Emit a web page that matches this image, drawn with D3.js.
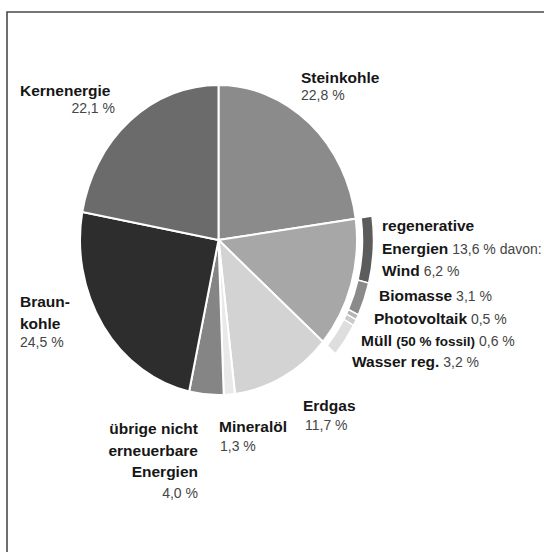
<!DOCTYPE html>
<html>
<head>
<meta charset="utf-8">
<script src="https://cdn.jsdelivr.net/npm/d3@7"></script>
<style>
  html, body { margin: 0; padding: 0; background: #fff; }
  svg { display: block; }
</style>
</head>
<body>
<svg id="chart" width="544" height="552"></svg>
<script>
// shares of gross electricity generation (%), clockwise from 12 o'clock
const categories = ['Steinkohle', 'regenerative Energien', 'Erdgas', 'Mineralöl', 'übrige nicht erneuerbare Energien', 'Braunkohle', 'Kernenergie']
const shares = [22.8, 13.6, 11.7, 1.3, 4.0, 24.5, 22.1]
const greys = ['#8b8b8b', '#a7a7a7', '#d3d3d3', '#e9e9e9', '#858585', '#2d2d2d', '#6b6b6b']

// breakdown of "regenerative Energien"
const regCategories = ['Wind', 'Biomasse', 'Photovoltaik', 'Müll (50 % fossil)', 'Wasser reg.']
const regShares = [6.2, 3.1, 0.5, 0.6, 3.2]
const regGreys = ['#5c5c5c', '#8a8a8a', '#b4b4b4', '#cbcbcb', '#dedede']

const svg = d3.select('#chart')
const fmt = d3.formatLocale({ decimal: ',', thousands: '.', grouping: [3], currency: ['', ' €'] }).format('.1f')
const pct = (v) => fmt(v) + ' %'

// frame
svg.append('path')
  .attr('d', 'M7,552 V12 H544')
  .attr('fill', 'none')
  .attr('stroke', '#4a4a4a')
  .attr('stroke-width', 1.6)

// the pie is slightly taller than wide in the original
const cx = 218.5
const cy = 240
const rx = 138.5
const ry = 155

const g = svg.append('g').attr('transform', `translate(${cx},${cy}) scale(1,${ry / rx})`)

const pie = d3.pie().sort(null).value((d) => d)
const arcs = pie(shares)
const arc = d3.arc().innerRadius(0).outerRadius(rx)

g.selectAll('.slice')
  .data(arcs)
  .enter()
  .append('path')
  .attr('class', 'slice')
  .attr('d', arc)
  .attr('fill', (d, i) => greys[i])
  .attr('stroke', '#fff')
  .attr('stroke-width', 2)
  .attr('vector-effect', 'non-scaling-stroke')

// outer ring for the renewables
const reg = arcs[1]
const ringPie = d3.pie().sort(null).value((d) => d).startAngle(reg.startAngle).endAngle(reg.endAngle)
const ringArc = d3.arc().innerRadius(rx + 5.5).outerRadius(rx + 16.5)

g.selectAll('.ring')
  .data(ringPie(regShares))
  .enter()
  .append('path')
  .attr('class', 'ring')
  .attr('d', ringArc)
  .attr('fill', (d, i) => regGreys[i])
  .attr('stroke', '#fff')
  .attr('stroke-width', 1.5)
  .attr('vector-effect', 'non-scaling-stroke')

// labels
const labelFont = '"Liberation Sans", Arial, Helvetica, sans-serif'
const txt = svg.append('g').attr('font-family', labelFont)

function bold(x, y, s, anchor) {
  return txt.append('text')
    .attr('x', x).attr('y', y)
    .attr('text-anchor', anchor || 'start')
    .attr('font-size', '15.5px')
    .attr('font-weight', 'bold')
    .attr('fill', '#161616')
    .text(s)
}
function value(x, y, s, anchor) {
  return txt.append('text')
    .attr('x', x).attr('y', y)
    .attr('text-anchor', anchor || 'start')
    .attr('font-size', '14px')
    .attr('fill', '#454545')
    .text(s)
}
function addValue(t, s) {
  t.append('tspan').attr('font-size', '14px').attr('font-weight', 'normal').attr('fill', '#454545').text(' ' + s)
}

bold(20, 96, categories[6])
value(115, 113, pct(shares[6]), 'end')

bold(301, 83, categories[0])
value(301, 100, pct(shares[0]))

bold(382, 231, 'regenerative')
const en = bold(382, 254, 'Energien')
addValue(en, pct(shares[1]) + ' davon:')

const regPos = [[382, 276], [379, 301], [374, 324], [361, 346], [352, 367]]
regCategories.forEach((name, i) => {
  let t
  if (name.startsWith('Müll')) {
    t = bold(regPos[i][0], regPos[i][1], 'Müll ')
    t.append('tspan').attr('font-size', '13.5px').text('(50 % fossil)')
  } else {
    t = bold(regPos[i][0], regPos[i][1], name)
  }
  addValue(t, pct(regShares[i]))
})

bold(20, 307, 'Braun-')
bold(20, 329, 'kohle')
value(20, 347, pct(shares[5]))

bold(303, 411, categories[2])
value(305, 430, pct(shares[2]))

bold(219, 432, categories[3])
value(220, 451, pct(shares[3]))

bold(198, 434, 'übrige nicht', 'end')
bold(198, 456, 'erneuerbare', 'end')
bold(198, 477, 'Energien', 'end')
value(198, 498, pct(shares[4]), 'end')
</script>
</body>
</html>
